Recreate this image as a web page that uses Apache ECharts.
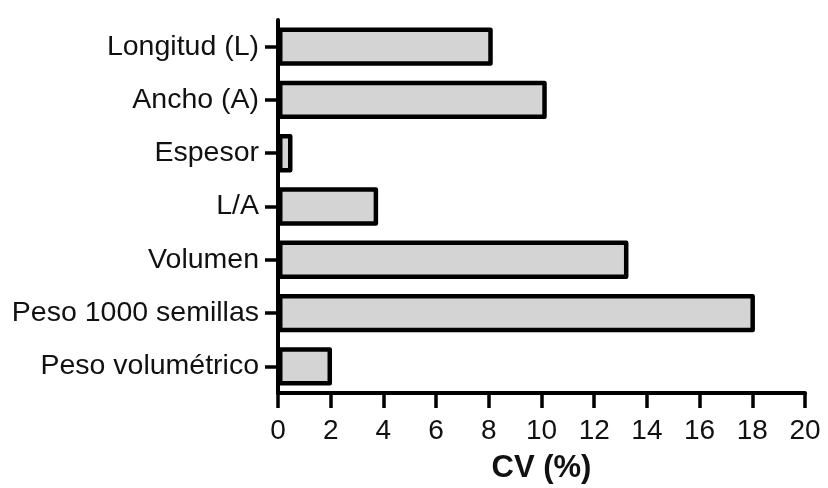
<!DOCTYPE html>
<html>
<head>
<meta charset="utf-8">
<script src="https://cdn.jsdelivr.net/npm/echarts@6/dist/echarts.min.js"></script>
<style>
html,body{margin:0;padding:0;background:#fff;}
#chart{width:828px;height:488px;}
</style>
</head>
<body>
<div id="chart"></div>
<script>
const categories = ["Longitud (L)", "Ancho (A)", "Espesor", "L/A", "Volumen", "Peso 1000 semillas", "Peso volumétrico"];
const cvValues = [8.15, 10.2, 0.55, 3.8, 13.3, 18.1, 2.05];
const xTicks = [0, 2, 4, 6, 8, 10, 12, 14, 16, 18, 20];
const xAxisName = "CV (%)";

const chart = echarts.init(document.getElementById('chart'), null, {renderer: 'canvas'});
const font = '"Liberation Sans", Arial, Helvetica, sans-serif';
chart.setOption({
  animation: false,
  backgroundColor: '#ffffff',
  grid: {left: 278, right: 23, top: 20, bottom: 95, containLabel: false, outerBoundsMode: 'none'},
  xAxis: {
    type: 'value',
    min: xTicks[0],
    max: xTicks[xTicks.length - 1],
    interval: xTicks[1] - xTicks[0],
    name: xAxisName,
    nameLocation: 'middle',
    nameGap: 60,
    nameTextStyle: {fontFamily: font, fontSize: 31, fontWeight: 'bold', color: '#111'},
    axisLine: {show: true, lineStyle: {color: '#000', width: 4}},
    axisTick: {show: true, length: 15, lineStyle: {color: '#000', width: 3.5}},
    axisLabel: {fontFamily: font, fontSize: 28, color: '#111', margin: 24},
    splitLine: {show: false}
  },
  yAxis: {
    type: 'category',
    data: categories,
    inverse: true,
    axisLine: {show: true, lineStyle: {color: '#000', width: 4}},
    axisTick: {show: true, alignWithLabel: true, length: 13, lineStyle: {color: '#000', width: 3.5}},
    axisLabel: {fontFamily: font, fontSize: 28.5, color: '#111', margin: 19}
  },
  series: [{
    type: 'bar',
    data: cvValues,
    barWidth: '72%',
    itemStyle: {color: '#d4d4d4', borderColor: '#000', borderWidth: 4.5, borderJoin: 'round'}
  }]
});
</script>
</body>
</html>
